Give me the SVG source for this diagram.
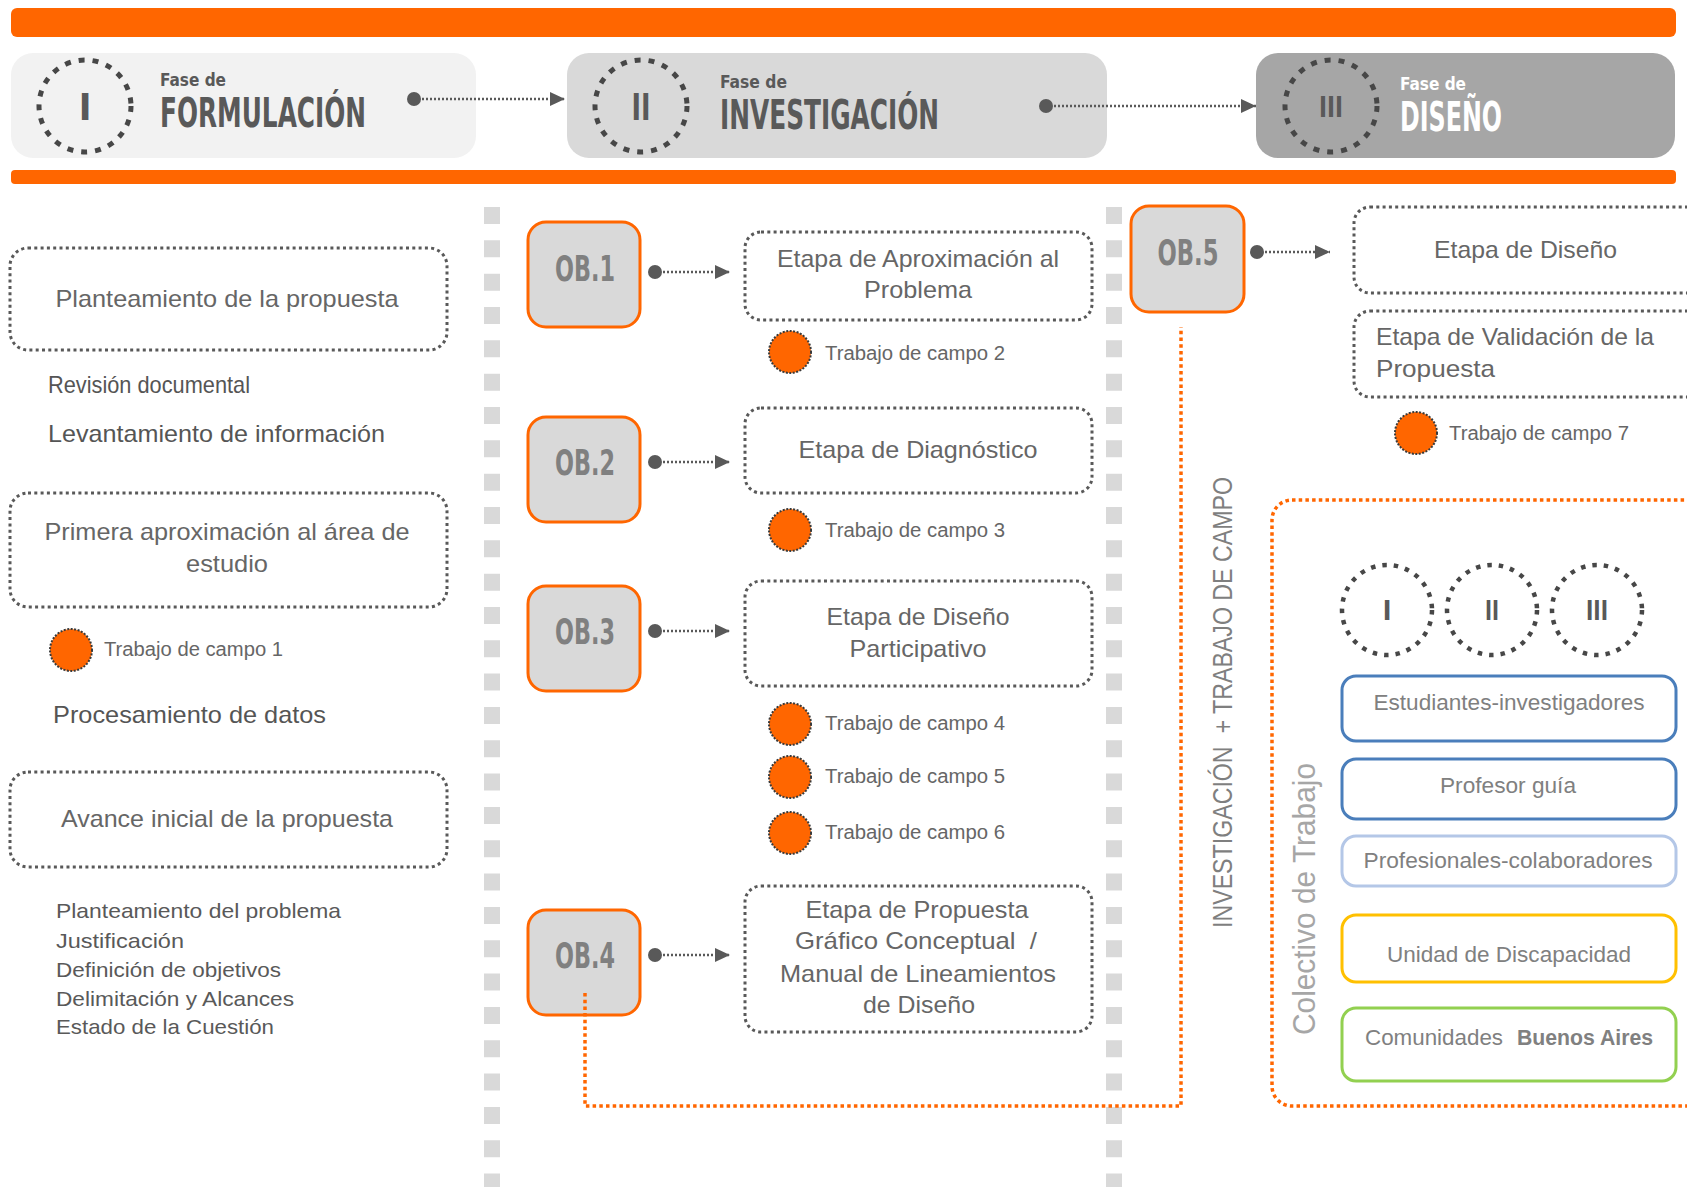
<svg xmlns="http://www.w3.org/2000/svg" width="1687" height="1187" viewBox="0 0 1687 1187">
<style>
text{font-family:"Liberation Sans","DejaVu Sans",Arial,sans-serif;}
.hd{font-family:"Liberation Sans Narrow","DejaVu Sans Condensed","Liberation Sans",sans-serif;font-weight:bold;}
.dbox{fill:#fff;stroke:#595959;stroke-width:3;stroke-dasharray:3 3.3;}
.ob{fill:#d9d9d9;stroke:#ff6600;stroke-width:3;}
.obt{font-size:36px;fill:#808080;text-anchor:middle;}
.lbl{font-size:24px;fill:#666;}
.mid{text-anchor:middle;}
.plain{font-size:24px;fill:#555;}
.list{font-size:21px;fill:#595959;}
.tc{fill:#ff6600;stroke:#3a3a3a;stroke-width:2;stroke-dasharray:2 1.5;}
.tct{font-size:20px;fill:#666;}
.hcirc{fill:none;stroke:#474747;stroke-width:5;stroke-dasharray:6 8;}
.rcirc{fill:none;stroke:#474747;stroke-width:4.5;stroke-dasharray:4.5 7;}
.rom{fill:#595959;text-anchor:middle;}
.arr{fill:none;stroke:#595959;stroke-width:2.5;stroke-dasharray:2 2;marker-start:url(#dot);marker-end:url(#tri);}
.oline{fill:none;stroke:#ff6600;stroke-width:3.5;stroke-dasharray:3.5 3.2;}
.pbox{fill:#fff;stroke-width:3;}
.pt{font-size:22px;fill:#808080;}
</style>
<defs>
<marker id="tri" viewBox="0 0 15 14" refX="15" refY="7" markerWidth="15" markerHeight="14" markerUnits="userSpaceOnUse" orient="auto"><path d="M0,0 L15,7 L0,14 Z" fill="#595959"/></marker>
<marker id="dot" viewBox="-7 -7 14 14" refX="0" refY="0" markerWidth="14" markerHeight="14" markerUnits="userSpaceOnUse"><circle cx="0" cy="0" r="7" fill="#595959"/></marker>
</defs>
<rect x="0" y="0" width="1687" height="1187" fill="#fff"/>

<!-- bars and columns -->
<rect x="11" y="8" width="1665" height="29" rx="6" fill="#ff6600"/>
<rect x="11" y="170" width="1665" height="14" rx="4" fill="#ff6600"/>
<line x1="492" y1="207" x2="492" y2="1187" stroke="#d9d9d9" stroke-width="16" stroke-dasharray="17 16.33"/>
<line x1="1114" y1="207" x2="1114" y2="1187" stroke="#d9d9d9" stroke-width="16" stroke-dasharray="17 16.33"/>

<!-- header phases -->
<g id="fase1">
<rect x="11" y="53" width="465" height="105" rx="22" fill="#f2f2f2"/>
<circle class="hcirc" cx="85" cy="106" r="46"/>
<text class="hd rom" x="85" y="120" font-size="38">I</text>
<text class="hd" x="160" y="86" font-size="17" fill="#595959" textLength="66" lengthAdjust="spacingAndGlyphs">Fase de</text>
<text class="hd" x="160" y="127" font-size="40" fill="#595959" textLength="206" lengthAdjust="spacingAndGlyphs">FORMULACIÓN</text>
</g>
<g id="fase2">
<rect x="567" y="53" width="540" height="105" rx="22" fill="#d9d9d9"/>
<circle class="hcirc" cx="641" cy="106" r="46"/>
<text class="hd rom" x="641" y="120" font-size="38" textLength="19" lengthAdjust="spacingAndGlyphs">II</text>
<text class="hd" x="720" y="88" font-size="17" fill="#595959" textLength="67" lengthAdjust="spacingAndGlyphs">Fase de</text>
<text class="hd" x="720" y="129" font-size="40" fill="#595959" textLength="219" lengthAdjust="spacingAndGlyphs">INVESTIGACIÓN</text>
</g>
<g id="fase3">
<rect x="1256" y="53" width="419" height="105" rx="22" fill="#a6a6a6"/>
<circle class="hcirc" cx="1331" cy="106" r="46"/>
<text class="hd rom" x="1331" y="117" font-size="28" textLength="24" lengthAdjust="spacingAndGlyphs">III</text>
<text class="hd" x="1400" y="90" font-size="17" fill="#fff" textLength="66" lengthAdjust="spacingAndGlyphs">Fase de</text>
<text class="hd" x="1400" y="131" font-size="40" fill="#fff" textLength="102" lengthAdjust="spacingAndGlyphs">DISEÑO</text>
</g>

<!-- left column -->
<g id="planteamiento">
<rect class="dbox" x="10" y="248" width="437" height="102" rx="18"/>
<text class="lbl mid" x="227" y="307" textLength="343" lengthAdjust="spacingAndGlyphs">Planteamiento de la propuesta</text>
</g>
<g id="revision"><text class="plain" x="48" y="393" textLength="202" lengthAdjust="spacingAndGlyphs">Revisión documental</text></g>
<g id="levantamiento"><text class="plain" x="48" y="442" textLength="337" lengthAdjust="spacingAndGlyphs">Levantamiento de información</text></g>
<g id="primera">
<rect class="dbox" x="10" y="493" width="437" height="114" rx="18"/>
<text class="lbl mid" x="227" y="540" textLength="365" lengthAdjust="spacingAndGlyphs">Primera aproximación al área de</text>
<text class="lbl mid" x="227" y="572" textLength="82" lengthAdjust="spacingAndGlyphs">estudio</text>
</g>
<g id="tc1">
<circle class="tc" cx="71" cy="650" r="21"/>
<text class="tct" x="104" y="656" textLength="179" lengthAdjust="spacingAndGlyphs">Trabajo de campo 1</text>
</g>
<g id="procesamiento"><text class="plain" x="53" y="723" textLength="273" lengthAdjust="spacingAndGlyphs">Procesamiento de datos</text></g>
<g id="avance">
<rect class="dbox" x="10" y="772" width="437" height="95" rx="18"/>
<text class="lbl mid" x="227" y="827" textLength="332" lengthAdjust="spacingAndGlyphs">Avance inicial de la propuesta</text>
</g>
<g id="lista">
<text class="list" x="56" y="918" textLength="285" lengthAdjust="spacingAndGlyphs">Planteamiento del problema</text>
<text class="list" x="56" y="948" textLength="128" lengthAdjust="spacingAndGlyphs">Justificación</text>
<text class="list" x="56" y="977" textLength="225" lengthAdjust="spacingAndGlyphs">Definición de objetivos</text>
<text class="list" x="56" y="1006" textLength="238" lengthAdjust="spacingAndGlyphs">Delimitación y Alcances</text>
<text class="list" x="56" y="1034" textLength="218" lengthAdjust="spacingAndGlyphs">Estado de la Cuestión</text>
</g>

<!-- OB nodes -->
<g id="ob1"><rect class="ob" x="528" y="222" width="112" height="105" rx="18"/><text class="hd obt" x="585" y="281" textLength="60" lengthAdjust="spacingAndGlyphs">OB.1</text></g>
<g id="ob2"><rect class="ob" x="528" y="417" width="112" height="105" rx="18"/><text class="hd obt" x="585" y="475" textLength="60" lengthAdjust="spacingAndGlyphs">OB.2</text></g>
<g id="ob3"><rect class="ob" x="528" y="586" width="112" height="105" rx="18"/><text class="hd obt" x="585" y="644" textLength="60" lengthAdjust="spacingAndGlyphs">OB.3</text></g>
<g id="ob4"><rect class="ob" x="528" y="910" width="112" height="105" rx="18"/><text class="hd obt" x="585" y="968" textLength="60" lengthAdjust="spacingAndGlyphs">OB.4</text></g>
<g id="ob5"><rect class="ob" x="1131" y="206" width="113" height="106" rx="18"/><text class="hd obt" x="1188" y="265" textLength="61" lengthAdjust="spacingAndGlyphs">OB.5</text></g>

<!-- middle stages -->
<g id="etapa1">
<rect class="dbox" x="745" y="232" width="347" height="88" rx="16"/>
<text class="lbl mid" x="918" y="267" textLength="282" lengthAdjust="spacingAndGlyphs">Etapa de Aproximación al</text>
<text class="lbl mid" x="918" y="298" textLength="108" lengthAdjust="spacingAndGlyphs">Problema</text>
</g>
<g id="tc2"><circle class="tc" cx="790" cy="352" r="21"/><text class="tct" x="825" y="360" textLength="180" lengthAdjust="spacingAndGlyphs">Trabajo de campo 2</text></g>
<g id="etapa2">
<rect class="dbox" x="745" y="408" width="347" height="85" rx="16"/>
<text class="lbl mid" x="918" y="458" textLength="239" lengthAdjust="spacingAndGlyphs">Etapa de Diagnóstico</text>
</g>
<g id="tc3"><circle class="tc" cx="790" cy="530" r="21"/><text class="tct" x="825" y="537" textLength="180" lengthAdjust="spacingAndGlyphs">Trabajo de campo 3</text></g>
<g id="etapa3">
<rect class="dbox" x="745" y="581" width="347" height="105" rx="16"/>
<text class="lbl mid" x="918" y="625" textLength="183" lengthAdjust="spacingAndGlyphs">Etapa de Diseño</text>
<text class="lbl mid" x="918" y="657" textLength="137" lengthAdjust="spacingAndGlyphs">Participativo</text>
</g>
<g id="tc4"><circle class="tc" cx="790" cy="724" r="21"/><text class="tct" x="825" y="730" textLength="180" lengthAdjust="spacingAndGlyphs">Trabajo de campo 4</text></g>
<g id="tc5"><circle class="tc" cx="790" cy="777" r="21"/><text class="tct" x="825" y="783" textLength="180" lengthAdjust="spacingAndGlyphs">Trabajo de campo 5</text></g>
<g id="tc6"><circle class="tc" cx="790" cy="833" r="21"/><text class="tct" x="825" y="839" textLength="180" lengthAdjust="spacingAndGlyphs">Trabajo de campo 6</text></g>
<g id="etapa4">
<rect class="dbox" x="745" y="886" width="347" height="146" rx="16"/>
<text class="lbl mid" x="917" y="918" textLength="223" lengthAdjust="spacingAndGlyphs">Etapa de Propuesta</text>
<text class="lbl mid" x="916" y="949" textLength="242" lengthAdjust="spacingAndGlyphs">Gráfico Conceptual&#160;&#160;/</text>
<text class="lbl mid" x="918" y="982" textLength="276" lengthAdjust="spacingAndGlyphs">Manual de Lineamientos</text>
<text class="lbl mid" x="919" y="1013" textLength="112" lengthAdjust="spacingAndGlyphs">de Diseño</text>
</g>

<!-- right stages -->
<g id="etapa5">
<rect class="dbox" x="1354" y="207" width="360" height="86" rx="16"/>
<text class="lbl" x="1434" y="258" textLength="183" lengthAdjust="spacingAndGlyphs">Etapa de Diseño</text>
</g>
<g id="etapa6">
<rect class="dbox" x="1354" y="311" width="360" height="86" rx="16"/>
<text class="lbl" x="1376" y="345" textLength="278" lengthAdjust="spacingAndGlyphs">Etapa de Validación de la</text>
<text class="lbl" x="1376" y="377" textLength="119" lengthAdjust="spacingAndGlyphs">Propuesta</text>
</g>
<g id="tc7"><circle class="tc" cx="1416" cy="433" r="21"/><text class="tct" x="1449" y="440" textLength="180" lengthAdjust="spacingAndGlyphs">Trabajo de campo 7</text></g>

<g id="investigacion-label">
<text transform="translate(1232,928) rotate(-90)" font-size="27" fill="#7f7f7f" textLength="451" lengthAdjust="spacingAndGlyphs">INVESTIGACIÓN&#160;&#160;+ TRABAJO DE CAMPO</text>
</g>

<!-- colectivo de trabajo -->
<g id="colectivo">
<rect class="oline" x="1272" y="500" width="440" height="606" rx="20"/>
<text transform="translate(1315,1035) rotate(-90)" font-size="31" fill="#a6a6a6" textLength="272" lengthAdjust="spacingAndGlyphs">Colectivo de Trabajo</text>
<circle class="rcirc" cx="1387" cy="610" r="45"/>
<text class="hd rom" x="1387" y="620" font-size="26">I</text>
<circle class="rcirc" cx="1492" cy="610" r="45"/>
<text class="hd rom" x="1492" y="620" font-size="26" textLength="14" lengthAdjust="spacingAndGlyphs">II</text>
<circle class="rcirc" cx="1597" cy="610" r="45"/>
<text class="hd rom" x="1597" y="620" font-size="26" textLength="22" lengthAdjust="spacingAndGlyphs">III</text>
</g>
<g id="estudiantes"><rect class="pbox" x="1342" y="676" width="334" height="65" rx="14" stroke="#4a7ebb"/><text class="pt mid" x="1509" y="710" textLength="271" lengthAdjust="spacingAndGlyphs">Estudiantes-investigadores</text></g>
<g id="profesor"><rect class="pbox" x="1342" y="759" width="334" height="60" rx="14" stroke="#4a7ebb"/><text class="pt mid" x="1508" y="793" textLength="136" lengthAdjust="spacingAndGlyphs">Profesor guía</text></g>
<g id="profesionales"><rect class="pbox" x="1342" y="836" width="334" height="50" rx="14" stroke="#b4c7e7"/><text class="pt mid" x="1508" y="868" textLength="289" lengthAdjust="spacingAndGlyphs">Profesionales-colaboradores</text></g>
<g id="unidad"><rect class="pbox" x="1342" y="915" width="334" height="67" rx="14" stroke="#ffc000"/><text class="pt mid" x="1509" y="962" textLength="244" lengthAdjust="spacingAndGlyphs">Unidad de Discapacidad</text></g>
<g id="comunidades"><rect class="pbox" x="1342" y="1008" width="334" height="73" rx="14" stroke="#92d050"/>
<text class="pt" x="1365" y="1045" textLength="138" lengthAdjust="spacingAndGlyphs">Comunidades</text>
<text class="pt" x="1517" y="1045" font-weight="bold" textLength="136" lengthAdjust="spacingAndGlyphs">Buenos Aires</text></g>

<!-- connectors -->
<g id="connectors">
<line class="arr" x1="414" y1="99" x2="565" y2="99"/>
<line class="arr" x1="1046" y1="106" x2="1256" y2="106"/>
<line class="arr" x1="655" y1="272" x2="730" y2="272"/>
<line class="arr" x1="655" y1="462" x2="730" y2="462"/>
<line class="arr" x1="655" y1="631" x2="730" y2="631"/>
<line class="arr" x1="655" y1="955" x2="730" y2="955"/>
<line class="arr" x1="1257" y1="252" x2="1330" y2="252"/>
<path class="oline" d="M585,993 V1106 H1181 V327"/>
</g>
</svg>
